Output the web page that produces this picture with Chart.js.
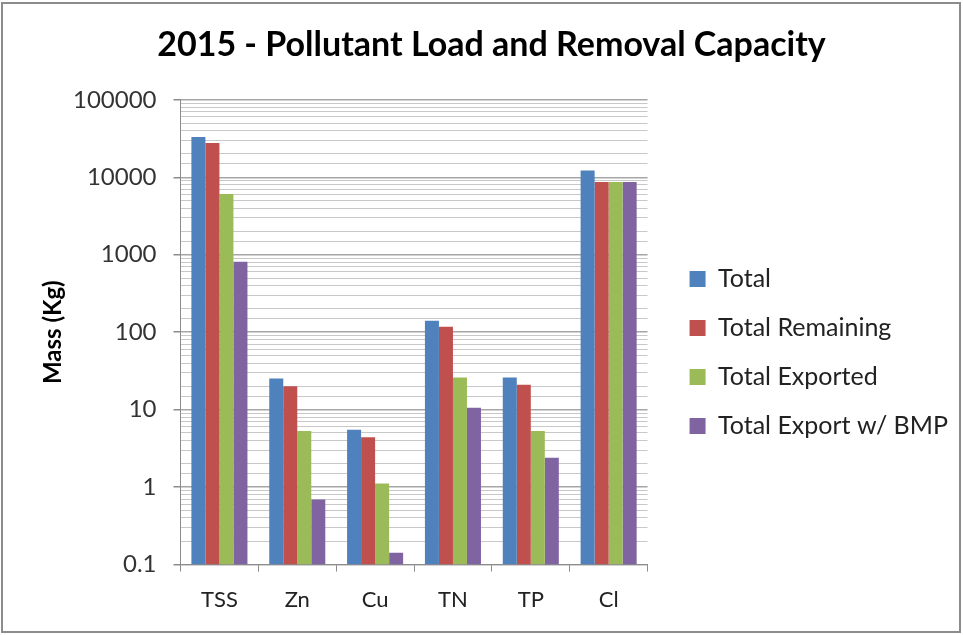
<!DOCTYPE html>
<html lang="en">
  <head>
    <meta charset="UTF-8">
    <title>2015 - Pollutant Load and Removal Capacity</title>
    <script src="https://cdn.jsdelivr.net/npm/chart.js"></script>
    <style>
      html, body { margin: 0; padding: 0; background: #fff; }
      #wrap { width: 963px; height: 635px; }
    </style>
  </head>
  <body>
    <div id="wrap"><canvas id="loadChart"></canvas></div>
    <script>
      const categories = ['TSS', 'Zn', 'Cu', 'TN', 'TP', 'Cl'];
      const total = [33000, 25.3, 5.5, 141, 26.1, 12200];
      const totalRemaining = [27600, 20, 4.4, 118, 21, 8700];
      const totalExported = [6100, 5.3, 1.11, 26.1, 5.3, 8700];
      const totalExportBmp = [810, 0.69, 0.142, 10.6, 2.4, 8700];
      const yTicks = [0.1, 1, 10, 100, 1000, 10000, 100000];

      const fontFamily = 'Lato, "Open Sans", sans-serif';

      function isMajor(v) {
        return yTicks.some(t => Math.abs(v - t) / t < 1e-6);
      }

      // white background + thin grey frame like the exported chart
      const framePlugin = {
        id: 'frame',
        beforeDraw(chart) {
          const ctx = chart.ctx;
          ctx.save();
          ctx.fillStyle = '#fff';
          ctx.fillRect(0, 0, chart.width, chart.height);
          ctx.strokeStyle = '#8c8c8c';
          ctx.lineWidth = 2;
          ctx.strokeRect(2, 3, chart.width - 5, chart.height - 6);
          ctx.restore();
        }
      };

      const ctx = document.getElementById('loadChart').getContext('2d');
      new Chart(ctx, {
        type: 'bar',
        data: {
          labels: categories,
          datasets: [
            { label: 'Total', data: total, backgroundColor: '#4F81BD' },
            { label: 'Total Remaining', data: totalRemaining, backgroundColor: '#C0504D' },
            { label: 'Total Exported', data: totalExported, backgroundColor: '#9BBB59' },
            { label: 'Total Export w/ BMP', data: totalExportBmp, backgroundColor: '#8064A2' }
          ]
        },
        options: {
          responsive: true,
          maintainAspectRatio: false,
          animation: false,
          datasets: {
            bar: { categoryPercentage: 0.72, barPercentage: 1.0 }
          },
          layout: { padding: { left: 25, right: 5, top: 25, bottom: 7 } },
          plugins: {
            title: {
              display: true,
              text: '2015 - Pollutant Load and Removal Capacity',
              color: '#000',
              font: { family: fontFamily, size: 34, weight: 'bold' },
              padding: { top: 0, bottom: 34 }
            },
            legend: {
              position: 'right',
              maxWidth: 320,
              // blank title only pushes the item block a bit lower
              title: { display: true, text: ' ', font: { size: 10 }, padding: { top: 40, bottom: 0 } },
              labels: {
                color: '#222',
                font: { family: fontFamily, size: 25 },
                boxWidth: 16,
                boxHeight: 16,
                padding: 24
              }
            },
            tooltip: { enabled: false }
          },
          scales: {
            x: {
              grid: {
                offset: true,
                drawOnChartArea: false,
                drawTicks: true,
                tickLength: 7,
                color: '#8c8c8c'
              },
              border: { color: '#8c8c8c' },
              ticks: {
                color: '#222',
                font: { family: fontFamily, size: 22 },
                padding: 15
              }
            },
            y: {
              type: 'logarithmic',
              min: 0.1,
              max: 100000,
              title: {
                display: true,
                text: 'Mass (Kg)',
                color: '#000',
                font: { family: fontFamily, size: 24, weight: 'bold' },
                padding: { top: 14, bottom: 0 }
              },
              border: { color: '#8c8c8c' },
              grid: {
                color: c => isMajor(c.tick.value) ? '#a6a6a6' : '#c8c8c8',
                lineWidth: c => isMajor(c.tick.value) ? 1.5 : 1,
                tickColor: c => isMajor(c.tick.value) ? '#8c8c8c' : 'rgba(0,0,0,0)',
                tickLength: 7
              },
              ticks: {
                autoSkip: false,
                color: '#333',
                font: { family: fontFamily, size: 24 },
                padding: 17,
                callback: v => isMajor(v) ? String(v) : ''
              }
            },
            // empty right-hand axis, only keeps a gap between plot and legend
            gap: {
              type: 'linear',
              position: 'right',
              display: true,
              border: { display: false },
              grid: { display: false },
              ticks: { display: false },
              afterFit: s => { s.width = 18; }
            }
          }
        },
        plugins: [framePlugin]
      });
    </script>
  </body>
</html>
